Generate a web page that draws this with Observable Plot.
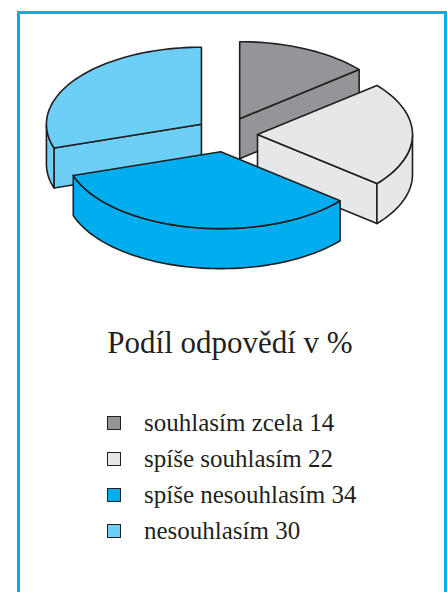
<!DOCTYPE html>
<html>
<head>
<meta charset="utf-8">
<script src="https://cdn.jsdelivr.net/npm/d3@7"></script>
<script src="https://cdn.jsdelivr.net/npm/@observablehq/plot@0.6"></script>
<style>
  html, body { margin: 0; padding: 0; background: #fff; width: 447px; height: 592px; overflow: hidden; }
  #frame { position: absolute; left: 17px; top: 11px; width: 424px; height: 620px; border: 3px solid #00aeef; border-bottom: none; }
  #chart { position: absolute; left: 0; top: 0; }
  .serif { font-family: "Times New Roman", "Liberation Serif", Tinos, "DejaVu Serif", "Noto Serif", serif; color: #231f20; }
  #title { position: absolute; left: 0; width: 460px; top: 325px; text-align: center; font-size: 31px; }
  #legend { position: absolute; left: 107px; top: 405px; font-size: 25px; }
  .row { height: 36px; display: flex; align-items: center; }
  .sw { width: 12px; height: 12px; border: 1.5px solid #231f20; margin-right: 23px; }
</style>
</head>
<body>
<div id="frame"></div>
<div id="chart"></div>
<div id="title" class="serif">Podíl odpovědí v %</div>
<div id="legend" class="serif"></div>
<script>
const categories = ["souhlasím zcela", "spíše souhlasím", "spíše nesouhlasím", "nesouhlasím"];
const values = [14, 22, 34, 30];
const colors = ["#939598", "#e6e7e8", "#00aeef", "#6dcff6"];

// geometry / style parameters
const CX = 226, CY = 134, RX = 155, RY = 77;
const T = 40 / RY;          // thickness in y units
const EX = 0.2, EY = 0.227; // explosion
const STEP = Math.PI / 90;

const pie = d3.pie().sort(null).startAngle(0).endAngle(2 * Math.PI)(values);
const slices = pie.map((p, i) => {
  const m = (p.startAngle + p.endAngle) / 2;
  return {i, a0: p.startAngle, a1: p.endAngle, ox: EX * Math.sin(m), oy: -EY * Math.cos(m), color: colors[i]};
});

function arcPts(s, b0, b1, z) {
  const pts = [];
  const n = Math.max(2, Math.ceil(Math.abs(b1 - b0) / STEP));
  for (let k = 0; k <= n; k++) {
    const a = b0 + (b1 - b0) * k / n;
    pts.push({x: s.ox + Math.sin(a), y: s.oy - Math.cos(a) + z});
  }
  return pts;
}
function topFace(s) {
  return [{x: s.ox, y: s.oy}, ...arcPts(s, s.a0, s.a1, 0)];
}
function outerWall(s) {
  const lo = Math.max(s.a0, Math.PI / 2), hi = Math.min(s.a1, 3 * Math.PI / 2);
  if (hi <= lo) return null;
  return [...arcPts(s, lo, hi, 0), ...arcPts(s, hi, lo, T)];
}
function radialWall(s, a) {
  const rx = s.ox + Math.sin(a), ry = s.oy - Math.cos(a);
  return [{x: s.ox, y: s.oy}, {x: rx, y: ry}, {x: rx, y: ry + T}, {x: s.ox, y: s.oy + T}];
}
function facesOf(s) {
  const f = [];
  if (Math.sin(s.a0) < -1e-6) f.push(radialWall(s, s.a0));
  if (Math.sin(s.a1) > 1e-6) f.push(radialWall(s, s.a1));
  const w = outerWall(s);
  if (w) f.push(w);
  f.push(topFace(s));
  return f;
}

// back-to-front order
const order = [3, 0, 1, 2];
const marks = [];
for (const i of order) {
  for (const face of facesOf(slices[i])) {
    marks.push(Plot.line(face, {x: "x", y: "y", curve: "linear-closed", fill: slices[i].color, stroke: "#231f20", strokeWidth: 1.6, strokeLinejoin: "round"}));
  }
}

const chart = Plot.plot({
  width: 447, height: 300,
  margin: 0,
  x: {domain: [-1, 1], range: [CX - RX, CX + RX], axis: null},
  y: {domain: [-1, 1], range: [CY - RY, CY + RY], axis: null},
  style: {background: "transparent", overflow: "visible"},
  marks
});
document.getElementById("chart").appendChild(chart);

const legend = document.getElementById("legend");
categories.forEach((c, i) => {
  const row = document.createElement("div");
  row.className = "row";
  const sw = document.createElement("div");
  sw.className = "sw";
  sw.style.background = colors[i];
  const t = document.createElement("span");
  t.textContent = c + " " + values[i];
  row.appendChild(sw); row.appendChild(t);
  legend.appendChild(row);
});
</script>
</body>
</html>
